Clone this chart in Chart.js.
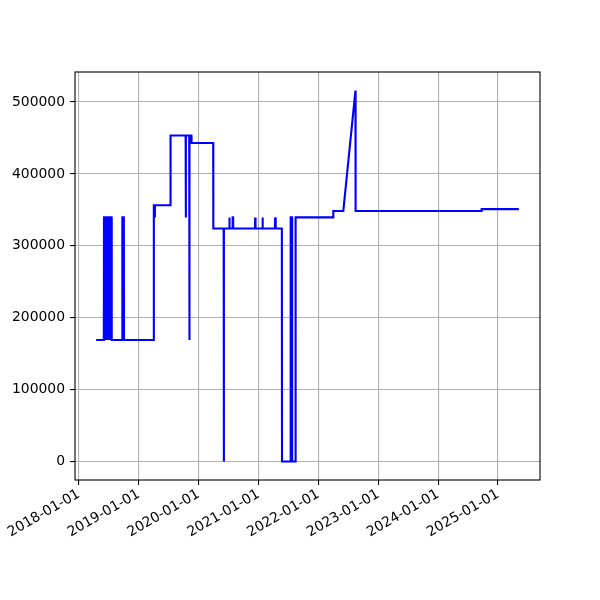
<!DOCTYPE html>
<html><head><meta charset="utf-8">
<script src="https://cdn.jsdelivr.net/npm/chart.js@4"></script>
<style>html,body{margin:0;padding:0;background:#fff}</style>
</head><body>
<canvas id="c" width="600" height="600" style="width:600px;height:600px;display:block"></canvas>
<script>
const dates = [
  '2018-04-16','2018-06-02','2018-06-03','2018-06-12','2018-06-13','2018-06-14','2018-06-24','2018-06-25','2018-06-26',
  '2018-07-02','2018-07-03','2018-07-04','2018-07-10','2018-07-11','2018-07-12','2018-07-19','2018-07-20',
  '2018-09-22','2018-09-23','2018-10-02','2018-10-03',
  '2019-04-02','2019-04-03','2019-04-08','2019-04-09','2019-04-10',
  '2019-07-13','2019-07-14',
  '2019-10-14','2019-10-15','2019-10-16',
  '2019-11-05','2019-11-06','2019-11-07',
  '2019-11-18','2019-11-19',
  '2020-03-30','2020-03-31',
  '2020-06-02','2020-06-03','2020-06-04',
  '2020-07-05','2020-07-06','2020-07-08','2020-07-09',
  '2020-07-26','2020-07-27','2020-07-29','2020-07-30',
  '2020-12-10','2020-12-11','2020-12-13','2020-12-14',
  '2021-01-22','2021-01-23','2021-01-27','2021-01-28',
  '2021-04-11','2021-04-12','2021-04-15','2021-04-16',
  '2021-05-23','2021-05-24',
  '2021-07-15','2021-07-16','2021-07-24','2021-07-25',
  '2021-08-14','2021-08-15',
  '2022-04-01','2022-04-02',
  '2022-06-02','2022-08-15','2022-08-16',
  '2024-09-22','2024-09-23',
  '2025-05-08'
];
const values = [
  169000,169000,339500,339500,169000,339500,339500,169000,339500,
  339500,169000,339500,339500,169000,339500,339500,169000,
  169000,339500,339500,169000,
  169000,356500,356500,339500,356500,
  356500,453500,
  453500,339500,453500,
  453500,169000,453500,
  453500,443000,
  443000,324000,
  324000,0,324000,
  324000,339500,339500,324000,
  324000,339500,339500,324000,
  324000,339500,339500,324000,
  324000,339500,339500,324000,
  324000,339500,339500,324000,
  324000,0,
  0,339500,339500,0,
  0,339500,
  339500,348500,
  348500,516000,348500,
  348500,351000,
  351000
];
const xTickLabels = ['2018-01-01','2019-01-01','2020-01-01','2021-01-01','2022-01-01','2023-01-01','2024-01-01','2025-01-01'];
const yTickValues = [0,100000,200000,300000,400000,500000];

const toMs = d => Date.parse(d + 'T00:00:00Z');
const pts = dates.map((d,i)=>({x: toMs(d), y: values[i]}));
const xs = pts.map(p=>p.x), ys = pts.map(p=>p.y);
const xmin = Math.min(...xs), xmax = Math.max(...xs);
const ymin = Math.min(...ys), ymax = Math.max(...ys);
const xpad = (xmax-xmin)*0.05, ypad = (ymax-ymin)*0.05;
const fmt = v => { const d = new Date(v); return d.toISOString().slice(0,10); };

const FONT = {family: 'DejaVu Sans', size: 13.9};
const frame = {
  id: 'frame',
  afterDraw(chart){
    const {ctx, chartArea:a} = chart;
    ctx.save();
    ctx.strokeStyle = '#000';
    ctx.lineWidth = 1.1;
    ctx.strokeRect(a.left, a.top, a.right-a.left, a.bottom-a.top);
    ctx.restore();
  }
};

new Chart(document.getElementById('c'), {
  type: 'line',
  data: { datasets: [{ data: pts, borderColor: '#0000ff', borderWidth: 2.1, pointRadius: 0, tension: 0, fill: false }] },
  options: {
    responsive: false, animation: false, devicePixelRatio: 1,
    layout: { padding: { left: 0, top: 72, right: 60, bottom: 0 } },
    plugins: { legend: { display: false }, tooltip: { enabled: false } },
    scales: {
      x: {
        type: 'linear', min: xmin - xpad, max: xmax + xpad,
        afterBuildTicks: s => { s.ticks = xTickLabels.map(l => ({value: toMs(l)})); },
        afterFit: s => { s.height = 120; },
        grid: { color: '#b0b0b0', lineWidth: 1.1, tickColor: '#000', tickLength: 5, drawTicks: true },
        border: { display: false },
        ticks: { autoSkip: false, minRotation: 30, maxRotation: 30, padding: 1, color: '#000', font: FONT,
                 callback: v => fmt(v) }
      },
      y: {
        type: 'linear', min: ymin - ypad, max: ymax + ypad,
        afterBuildTicks: s => { s.ticks = yTickValues.map(v => ({value: v})); },
        afterFit: s => { s.width = 75; },
        grid: { color: '#b0b0b0', lineWidth: 1.1, tickColor: '#000', tickLength: 5 },
        border: { display: false },
        ticks: { padding: 5, color: '#000', font: FONT, callback: v => String(v) }
      }
    }
  },
  plugins: [frame]
});
</script>
</body></html>
